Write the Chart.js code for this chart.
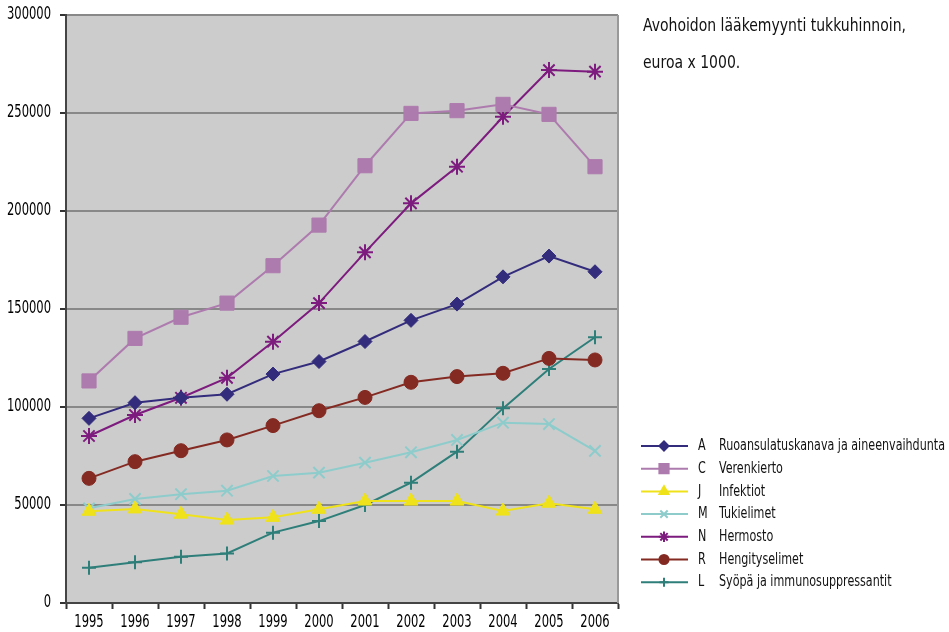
<!DOCTYPE html>
<html lang="fi">
<head>
<meta charset="UTF-8">
<title>Avohoidon lääkemyynti</title>
<script src="https://cdn.jsdelivr.net/npm/chart.js"></script>
<style>
  body { margin: 0; background: #fff; }
  #wrap { width: 949px; height: 632px; }
</style>
</head>
<body>
<div id="wrap"><canvas id="salesChart" width="949" height="632"></canvas></div>
<script>
// Avohoidon lääkemyynti ATC-pääryhmittäin, euroa x 1000
const years = ['1995', '1996', '1997', '1998', '1999', '2000', '2001', '2002', '2003', '2004', '2005', '2006'];
const yTicks = [0, 50000, 100000, 150000, 200000, 250000, 300000];

const ruoansulatus = [94200, 102200, 104700, 106500, 116800, 123200, 133400, 144200, 152500, 166400, 177000, 169000];
const verenkierto  = [113300, 135000, 145800, 153000, 172100, 192800, 223100, 249800, 251200, 254400, 249300, 222600];
const infektiot    = [46800, 48000, 45300, 42300, 43700, 47800, 52000, 52000, 52000, 46900, 50900, 47800];
const tukielimet   = [48300, 53100, 55500, 57300, 64800, 66500, 71600, 76900, 83200, 92000, 91300, 77600];
const hermosto     = [85200, 95900, 104700, 114900, 133300, 153000, 178900, 203900, 222600, 248100, 271900, 271100];
const hengitys     = [63600, 72100, 77700, 83200, 90500, 98100, 104900, 112600, 115500, 117200, 124800, 124000];
const syopa        = [18000, 20800, 23600, 25300, 35900, 41800, 50000, 61400, 77200, 99300, 119400, 135600];

const codes = ['A', 'C', 'J', 'M', 'N', 'R', 'L'];
const names = ['Ruoansulatuskanava ja aineenvaihdunta', 'Verenkierto', 'Infektiot', 'Tukielimet',
               'Hermosto', 'Hengityselimet', 'Syöpä ja immunosuppressantit'];
const titleLines = ['Avohoidon lääkemyynti tukkuhinnoin,', 'euroa x 1000.'];

const FONT = "'DejaVu Sans Condensed', 'Liberation Sans', sans-serif";

function series(label, data, color, style, radius, bw) {
  return {
    label: label,
    data: data,
    borderColor: color,
    backgroundColor: color,
    pointBackgroundColor: color,
    pointBorderColor: color,
    pointStyle: style,
    pointRadius: radius,
    pointBorderWidth: bw,
    borderWidth: 2,
    tension: 0,
    fill: false
  };
}

const datasets = [
  series(names[0], ruoansulatus, '#332C7C', 'rectRot', 7, 1),
  series(names[1], verenkierto, '#AE7BAE', 'rect', 10, 1),
  series(names[2], infektiot, '#EFE21A', 'triangle', 8, 1),
  series(names[3], tukielimet, '#8ECCCC', 'crossRot', 8, 2),
  series(names[4], hermosto, '#7D1B7E', 'star', 8, 2),
  series(names[5], hengitys, '#842A22', 'circle', 7, 1),
  series(names[6], syopa, '#2E7E7A', 'cross', 7, 2)
];

// draws text squeezed horizontally so it reads like a condensed face
function narrowText(ctx, text, x, y, sx) {
  ctx.save();
  ctx.translate(x, y);
  ctx.scale(sx, 1);
  ctx.fillText(text, 0, 0);
  ctx.restore();
}

// plot background, frame line, narrow tick labels, title and legend
const decorations = {
  id: 'decorations',
  beforeDraw(chart) {
    const { ctx, chartArea: a } = chart;
    ctx.save();
    ctx.fillStyle = '#CCCCCC';
    ctx.fillRect(a.left, a.top, a.right - a.left, a.bottom - a.top);
    ctx.restore();
  },
  afterDraw(chart) {
    const { ctx, chartArea: a, scales } = chart;
    ctx.save();
    ctx.strokeStyle = '#999999';
    ctx.lineWidth = 2;
    ctx.beginPath();
    ctx.moveTo(a.right, a.top);
    ctx.lineTo(a.right, a.bottom);
    ctx.stroke();

    // axis numbers
    ctx.fillStyle = '#000';
    ctx.font = '17px ' + FONT;
    const nsx = Math.min(1, 44 / ctx.measureText('300000').width);
    ctx.textAlign = 'right';
    ctx.textBaseline = 'middle';
    yTicks.forEach(v => {
      narrowText(ctx, String(v), 51, scales.y.getPixelForValue(v), nsx);
    });
    ctx.textAlign = 'center';
    ctx.textBaseline = 'top';
    years.forEach((yr, i) => {
      narrowText(ctx, yr, scales.x.getPixelForValue(i), 614, nsx);
    });

    ctx.textAlign = 'left';
    ctx.fillStyle = '#111';
    ctx.textBaseline = 'alphabetic';
    ctx.font = '18px ' + FONT;
    const tsx = Math.min(1, 263 / ctx.measureText(titleLines[0]).width);
    narrowText(ctx, titleLines[0], 643, 31, tsx);
    narrowText(ctx, titleLines[1], 643, 68, tsx);

    ctx.font = '16px ' + FONT;
    const lsx = Math.min(1, 226 / ctx.measureText(names[0]).width);
    const x0 = 641, x1 = 688, xm = 664;
    chart.data.datasets.forEach((ds, i) => {
      const y = 446 + i * 22.7;
      ctx.strokeStyle = ds.borderColor;
      ctx.fillStyle = ds.borderColor;
      ctx.lineWidth = 2;
      ctx.beginPath();
      ctx.moveTo(x0, y);
      ctx.lineTo(x1, y);
      ctx.stroke();
      Chart.helpers.drawPoint(ctx, {
        pointStyle: ds.pointStyle,
        radius: Math.max(4, ds.pointRadius * 0.65),
        rotation: 0,
        borderWidth: ds.pointBorderWidth
      }, xm, y);
      ctx.fillStyle = '#111';
      ctx.textBaseline = 'middle';
      ctx.font = '16px ' + FONT;
      narrowText(ctx, codes[i], 698, y, lsx);
      narrowText(ctx, names[i], 719, y, lsx);
    });
    ctx.restore();
  }
};

new Chart(document.getElementById('salesChart'), {
  type: 'line',
  data: { labels: years, datasets: datasets },
  options: {
    responsive: false,
    animation: false,
    layout: { padding: { top: 15, right: 331, left: 0, bottom: 0 } },
    plugins: {
      legend: { display: false },
      tooltip: { enabled: false }
    },
    scales: {
      x: {
        offset: true,
        grid: { display: true, offset: true, drawOnChartArea: false, drawTicks: true, tickLength: 6, tickColor: '#333', tickWidth: 2 },
        border: { color: '#444', width: 2 },
        ticks: { display: false },
        afterFit(scale) { scale.height = 29; }
      },
      y: {
        min: 0,
        max: 300000,
        afterBuildTicks(scale) { scale.ticks = yTicks.map(v => ({ value: v })); },
        grid: { color: '#888888', lineWidth: 2, drawTicks: true, tickLength: 6, tickColor: '#333', tickWidth: 2 },
        border: { color: '#444', width: 2 },
        ticks: { display: false },
        afterFit(scale) { scale.width = 66; }
      }
    }
  },
  plugins: [decorations]
});
</script>
</body>
</html>
